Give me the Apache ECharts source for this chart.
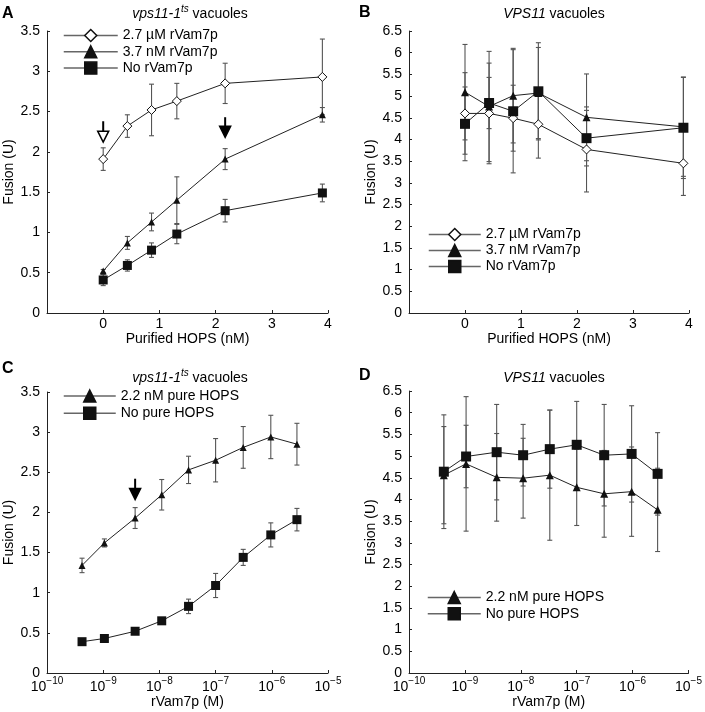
<!DOCTYPE html>
<html>
<head>
<meta charset="utf-8">
<script src="https://cdn.jsdelivr.net/npm/echarts@6/dist/echarts.min.js"></script>
<style>html,body{margin:0;padding:0;background:#fff}#c{width:705px;height:712px}</style>
</head>
<body>
<div id="c"></div>
<script>
// ---------- data ----------
const hopsNM = [0, 0.43, 0.86, 1.31, 2.17, 3.9];
const aHigh = [1.91, 2.32, 2.52, 2.63, 2.85, 2.93];
const aHighErr = [0.14, 0.14, 0.32, 0.22, 0.25, 0.47];
const aLow = [0.52, 0.87, 1.13, 1.40, 1.91, 2.46];
const aLowErr = [0.02, 0.08, 0.11, 0.29, 0.13, 0.09];
const aNone = [0.41, 0.59, 0.78, 0.98, 1.27, 1.49];
const aNoneErr = [0.07, 0.07, 0.09, 0.12, 0.14, 0.11];

const bHigh = [4.60, 4.60, 4.49, 4.35, 3.77, 3.45];
const bHighErr = [0.94, 1.16, 0.76, 0.78, 0.98, 0.74];
const bLow = [5.09, 4.76, 5.01, 5.07, 4.51, 4.29];
const bLowErr = [1.10, 1.27, 1.09, 1.05, 1.00, 1.14];
const bNone = [4.36, 4.84, 4.65, 5.11, 4.03, 4.27];
const bNoneErr = [0.85, 0.59, 1.42, 1.12, 0.64, 1.17];

const rVam7pM = [4.2e-10, 1.05e-9, 3.7e-9, 1.1e-8, 3.3e-8, 1e-7, 3.1e-7, 9.6e-7, 2.8e-6];
const cHops = [1.34, 1.62, 1.93, 2.22, 2.53, 2.65, 2.81, 2.94, 2.85];
const cHopsErr = [0.09, 0.05, 0.13, 0.19, 0.17, 0.27, 0.26, 0.27, 0.26];
const cNone = [0.39, 0.43, 0.52, 0.65, 0.83, 1.09, 1.44, 1.72, 1.91];
const cNoneErr = [0.02, 0.03, 0.02, 0.03, 0.09, 0.15, 0.10, 0.15, 0.14];

const dNone = [4.64, 4.99, 5.09, 5.02, 5.16, 5.26, 5.02, 5.05, 4.59];
const dNoneErr = [1.31, 0.72, 1.10, 0.71, 0.90, 1.00, 1.17, 1.11, 0.95];
const dHops = [4.56, 4.82, 4.51, 4.49, 4.56, 4.28, 4.13, 4.18, 3.76];
const dHopsErr = [1.12, 1.55, 1.01, 0.92, 1.50, 0.88, 1.00, 1.03, 0.96];

// arrows: [x, yStart, yTip, filled]
const arrowsA = [[0, 2.38, 2.12, 0], [2.17, 2.43, 2.18, 1]];
const arrowsC = [[3.7e-9, 2.42, 2.16, 1]];

const linTicks = [0, 1, 2, 3, 4];
const logExps = [-10, -9, -8, -7, -6, -5];

const nHigh = '2.7 µM rVam7p', nLow = '3.7 nM rVam7p', nNone = 'No rVam7p';
const nHops = '2.2 nM pure HOPS', nNoHops = 'No pure HOPS';

// ---------- helpers ----------
const FONT = "'Liberation Sans', Arial, Helvetica, sans-serif";
const pair = (xs, ys) => xs.map((x, i) => [x, ys[i]]);
const errData = (xs, ys, es) => xs.map((x, i) => [x, ys[i] - es[i], ys[i] + es[i]]);

function errRender(params, api) {
  const x = api.value(0), lo = api.value(1), hi = api.value(2);
  const p1 = api.coord([x, hi]), p2 = api.coord([x, lo]);
  const w = 2.5, st = {stroke: '#555', lineWidth: 1.1};
  return {type: 'group', children: [
    {type: 'line', shape: {x1: p1[0], y1: p1[1], x2: p2[0], y2: p2[1]}, style: st},
    {type: 'line', shape: {x1: p1[0] - w, y1: p1[1], x2: p1[0] + w, y2: p1[1]}, style: st},
    {type: 'line', shape: {x1: p2[0] - w, y1: p2[1], x2: p2[0] + w, y2: p2[1]}, style: st}
  ]};
}
function arrowRender(params, api) {
  const x = api.value(0), y0 = api.value(1), y1 = api.value(2), filled = api.value(3);
  const a = api.coord([x, y0]), b = api.coord([x, y1]);
  const hl = 11, hw = 5.5;
  return {type: 'group', children: [
    {type: 'line', shape: {x1: a[0], y1: a[1], x2: b[0], y2: b[1] - hl}, style: {stroke: '#000', lineWidth: 2}},
    {type: 'polygon', shape: {points: [[b[0] - hw, b[1] - hl], [b[0] + hw, b[1] - hl], [b[0], b[1]]]},
     style: {fill: filled ? '#000' : '#fff', stroke: '#000', lineWidth: 1.5}}
  ]};
}
function errSeries(idx, xs, ys, es) {
  return {type: 'custom', xAxisIndex: idx, yAxisIndex: idx, renderItem: errRender,
    data: errData(xs, ys, es), encode: {x: 0, y: [1, 2]}, z: 1, silent: true};
}
function lineSeries(idx, name, xs, ys, sym, size, open) {
  return {type: 'line', name: name, xAxisIndex: idx, yAxisIndex: idx, data: pair(xs, ys),
    symbol: sym, symbolSize: size, showAllSymbol: true, z: 3,
    lineStyle: {color: '#222', width: 1},
    itemStyle: open ? {color: '#fff', borderColor: '#111', borderWidth: 1} : {color: '#111', borderColor: '#111', borderWidth: 0}};
}

const grids = [
  {left: 47, top: 31, width: 281, height: 282},
  {left: 409, top: 31, width: 280, height: 282},
  {left: 47, top: 392, width: 281, height: 281},
  {left: 409, top: 391, width: 281, height: 282}
];
const axisLine = {onZero: false, lineStyle: {color: '#222', width: 1}};
const axisTick = {inside: true, length: 3, lineStyle: {color: '#222'}};
const labStyle = {color: '#000', fontSize: 14, fontFamily: FONT};

function linX(i) {
  return {type: 'value', gridIndex: i, min: -1, max: 4, interval: 1, axisLine, axisTick,
    splitLine: {show: false}, name: 'Purified HOPS (nM)', nameLocation: 'middle', nameGap: 18,
    nameTextStyle: labStyle,
    axisLabel: Object.assign({margin: 4, formatter: v => (linTicks.indexOf(v) >= 0 ? String(v) : '')}, labStyle)};
}
function logX(i) {
  return {type: 'log', logBase: 10, gridIndex: i, min: Math.pow(10, logExps[0]), max: Math.pow(10, logExps[logExps.length - 1]),
    axisLine, axisTick, splitLine: {show: false}, minorTick: {show: false},
    name: 'rVam7p (M)', nameLocation: 'middle', nameGap: 19, nameTextStyle: labStyle,
    axisLabel: Object.assign({margin: 3, formatter: v => '{b|10}{s|' + String(Math.round(Math.log10(v))).replace('-', '−') + '}',
      rich: {b: {fontSize: 14, fontFamily: FONT, color: '#000', lineHeight: 18, verticalAlign: 'bottom'},
             s: {fontSize: 10, fontFamily: FONT, color: '#000', lineHeight: 18, verticalAlign: 'top'}}}, labStyle)};
}
function valY(i, max) {
  return {type: 'value', gridIndex: i, min: 0, max: max, interval: 0.5, axisLine, axisTick,
    splitLine: {show: false}, name: 'Fusion (U)', nameLocation: 'middle', nameGap: 31, nameTextStyle: labStyle,
    axisLabel: Object.assign({margin: 7}, labStyle)};
}
function legend(left, top, w, gap, names) {
  return {left: left, top: top, orient: 'vertical', itemWidth: w, itemHeight: 15, itemGap: gap, itemTextGap: 4,
    padding: 0, selectedMode: false, data: names,
    textStyle: {color: '#000', fontSize: 14, fontFamily: FONT},
    lineStyle: {color: '#666', width: 1.5},
    itemStyle: {borderWidth: 1.5, borderColor: '#111'}};
}
const titleRich = {
  i: {fontSize: 14, fontStyle: 'italic', fontWeight: 'normal', fontFamily: FONT, color: '#000', lineHeight: 20},
  s: {fontSize: 10, fontStyle: 'italic', fontWeight: 'normal', fontFamily: FONT, color: '#000', lineHeight: 20, verticalAlign: 'top'},
  n: {fontSize: 14, fontWeight: 'normal', fontFamily: FONT, color: '#000', lineHeight: 20}
};
function title(text, left, top, align) {
  return {text: text, left: left, top: top, textAlign: align || 'left', padding: 0,
    textStyle: {rich: titleRich, fontSize: 14, fontWeight: 'normal', fontFamily: FONT}};
}
function letter(t, left, top) {
  return {text: t, left: left, top: top, padding: 0, textStyle: {fontSize: 16, fontWeight: 'bold', color: '#000', fontFamily: FONT}};
}

const option = {
  animation: false,
  backgroundColor: '#fff',
  title: [
    letter('A', 2, 6), letter('B', 359, 5), letter('C', 2, 361), letter('D', 359, 368),
    title('{i|vps11-1}{s|ts}{n| vacuoles}', 190, 4, 'center'),
    title('{i|VPS11}{n| vacuoles}', 554, 4, 'center'),
    title('{i|vps11-1}{s|ts}{n| vacuoles}', 190, 368, 'center'),
    title('{i|VPS11}{n| vacuoles}', 554, 368, 'center')
  ],
  grid: grids,
  xAxis: [linX(0), linX(1), logX(2), logX(3)],
  yAxis: [valY(0, 3.5), valY(1, 6.5), valY(2, 3.5), valY(3, 6.5)],
  legend: [
    legend(63, 28.5, 54, 2.3, [nHigh, nLow, nNone]),
    legend(428, 227.5, 52, 2, [nHigh, nLow, nNone]),
    legend(63, 389, 52, 3.3, [nHops, nNoHops]),
    legend(427, 590.5, 53, 2.3, [nHops, nNoHops])
  ],
  series: [
    errSeries(0, hopsNM, aNone, aNoneErr), errSeries(0, hopsNM, aLow, aLowErr), errSeries(0, hopsNM, aHigh, aHighErr),
    lineSeries(0, nNone, hopsNM, aNone, 'rect', 9, false),
    lineSeries(0, nLow, hopsNM, aLow, 'triangle', 7, false),
    lineSeries(0, nHigh, hopsNM, aHigh, 'diamond', 9, true),
    {type: 'custom', xAxisIndex: 0, yAxisIndex: 0, renderItem: arrowRender, data: arrowsA, encode: {x: 0, y: [1, 2]}, z: 4, silent: true},

    errSeries(1, hopsNM, bNone, bNoneErr), errSeries(1, hopsNM, bLow, bLowErr), errSeries(1, hopsNM, bHigh, bHighErr),
    lineSeries(1, nHigh, hopsNM, bHigh, 'diamond', 9, true),
    lineSeries(1, nLow, hopsNM, bLow, 'triangle', 8, false),
    lineSeries(1, nNone, hopsNM, bNone, 'rect', 10, false),

    errSeries(2, rVam7pM, cNone, cNoneErr), errSeries(2, rVam7pM, cHops, cHopsErr),
    lineSeries(2, nNoHops, rVam7pM, cNone, 'rect', 9, false),
    lineSeries(2, nHops, rVam7pM, cHops, 'triangle', 7, false),
    {type: 'custom', xAxisIndex: 2, yAxisIndex: 2, renderItem: arrowRender, data: arrowsC, encode: {x: 0, y: [1, 2]}, z: 4, silent: true},

    errSeries(3, rVam7pM, dNone, dNoneErr), errSeries(3, rVam7pM, dHops, dHopsErr),
    lineSeries(3, nHops, rVam7pM, dHops, 'triangle', 8, false),
    lineSeries(3, nNoHops, rVam7pM, dNone, 'rect', 10, false)
  ]
};
const chart = echarts.init(document.getElementById('c'), null, {renderer: 'canvas'});
chart.setOption(option);
</script>
</body>
</html>
